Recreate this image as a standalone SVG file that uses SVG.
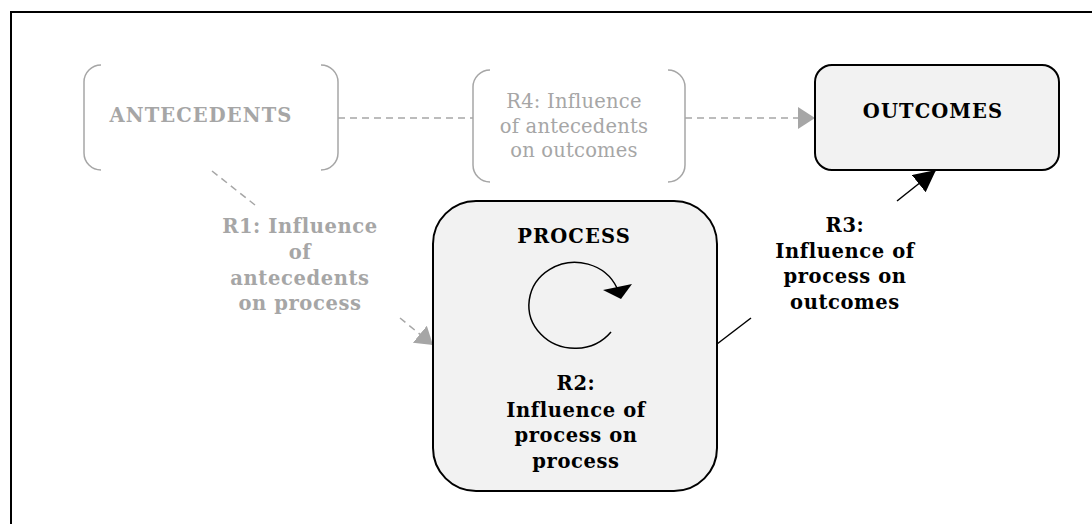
<svg xmlns="http://www.w3.org/2000/svg" width="1092" height="524" viewBox="0 0 1092 524">
  <style>
    .frame { fill: none; stroke: #000; stroke-width: 2; }
    .box { fill: #f2f2f2; stroke: #000; stroke-width: 2; }
    .bracket { fill: none; stroke: #a6a6a6; stroke-width: 1.5; }
    .dash { fill: none; stroke: #a6a6a6; stroke-width: 1.5; stroke-dasharray: 7 5; }
    .solid { fill: none; stroke: #000; stroke-width: 1.5; }
    text { font-family: "DejaVu Serif", "Liberation Serif", serif; text-anchor: middle; }
    .cap { font-size: 19.5px; font-weight: bold; letter-spacing: 1.1px; }
    .lbl { font-size: 19.5px; font-weight: bold; letter-spacing: 0.6px; }
    .reg { font-size: 19.5px; font-weight: normal; letter-spacing: 0.2px; }
    .gray { fill: #a6a6a6; }
    .black { fill: #000; }
  </style>
  <defs>
    <marker id="arrGray" markerUnits="userSpaceOnUse" markerWidth="18" markerHeight="24" refX="17" refY="11" orient="auto">
      <path d="M0,0 L17,11 L0,22 z" fill="#a6a6a6"/>
    </marker>
    <marker id="arrBlack" markerUnits="userSpaceOnUse" markerWidth="24" markerHeight="24" refX="22" refY="11" orient="auto">
      <path d="M0,0 L22,11 L0,22 z" fill="#000"/>
    </marker>
  </defs>

  <path class="frame" d="M11,524 L11,12 L1092,12"/>

  <g id="connectors">
    <line class="dash" x1="338" y1="118" x2="473" y2="118"/>
    <line class="dash" x1="685" y1="118" x2="815" y2="118" marker-end="url(#arrGray)"/>
    <line class="dash" x1="212" y1="171" x2="255" y2="205"/>
    <line class="dash" x1="400" y1="318" x2="433" y2="345" marker-end="url(#arrGray)"/>
    <line class="solid" x1="717" y1="344" x2="751" y2="318"/>
    <line class="solid" x1="897" y1="201" x2="936" y2="170" marker-end="url(#arrBlack)"/>
  </g>

  <g id="antecedents">
    <path class="bracket" d="M101,65 A17,17 0 0 0 84,82 L84,153 A17,17 0 0 0 101,170"/>
    <path class="bracket" d="M321,65 A17,17 0 0 1 338,82 L338,153 A17,17 0 0 1 321,170"/>
    <text class="cap gray" x="201" y="122">ANTECEDENTS</text>
  </g>

  <g id="r4">
    <path class="bracket" d="M490,70 A17,17 0 0 0 473,87 L473,165 A17,17 0 0 0 490,182"/>
    <path class="bracket" d="M668,70 A17,17 0 0 1 685,87 L685,165 A17,17 0 0 1 668,182"/>
    <text class="reg gray" x="574" y="108">R4: Influence</text>
    <text class="reg gray" x="574" y="133">of antecedents</text>
    <text class="reg gray" x="574" y="157">on outcomes</text>
  </g>

  <g id="outcomes">
    <rect class="box" x="815" y="65" width="244" height="105" rx="17" ry="17"/>
    <text class="cap black" x="933" y="118">OUTCOMES</text>
  </g>

  <g id="r1">
    <text class="lbl gray" x="300" y="233">R1: Influence</text>
    <text class="lbl gray" x="300" y="259">of</text>
    <text class="lbl gray" x="300" y="285">antecedents</text>
    <text class="lbl gray" x="300" y="310">on process</text>
  </g>

  <g id="process">
    <rect class="box" x="433" y="201" width="284" height="290" rx="43" ry="43"/>
    <text class="cap black" x="574" y="243">PROCESS</text>
    <path class="solid" d="M611,332 A46,43 0 1 1 617,288"/>
    <polygon points="603,290 632,284 621,299" fill="#000"/>
    <text class="lbl black" x="576" y="390">R2:</text>
    <text class="lbl black" x="576" y="417">Influence of</text>
    <text class="lbl black" x="576" y="442">process on</text>
    <text class="lbl black" x="576" y="468">process</text>
  </g>

  <g id="r3">
    <text class="lbl black" x="845" y="232">R3:</text>
    <text class="lbl black" x="845" y="258">Influence of</text>
    <text class="lbl black" x="845" y="283">process on</text>
    <text class="lbl black" x="845" y="309">outcomes</text>
  </g>
</svg>
